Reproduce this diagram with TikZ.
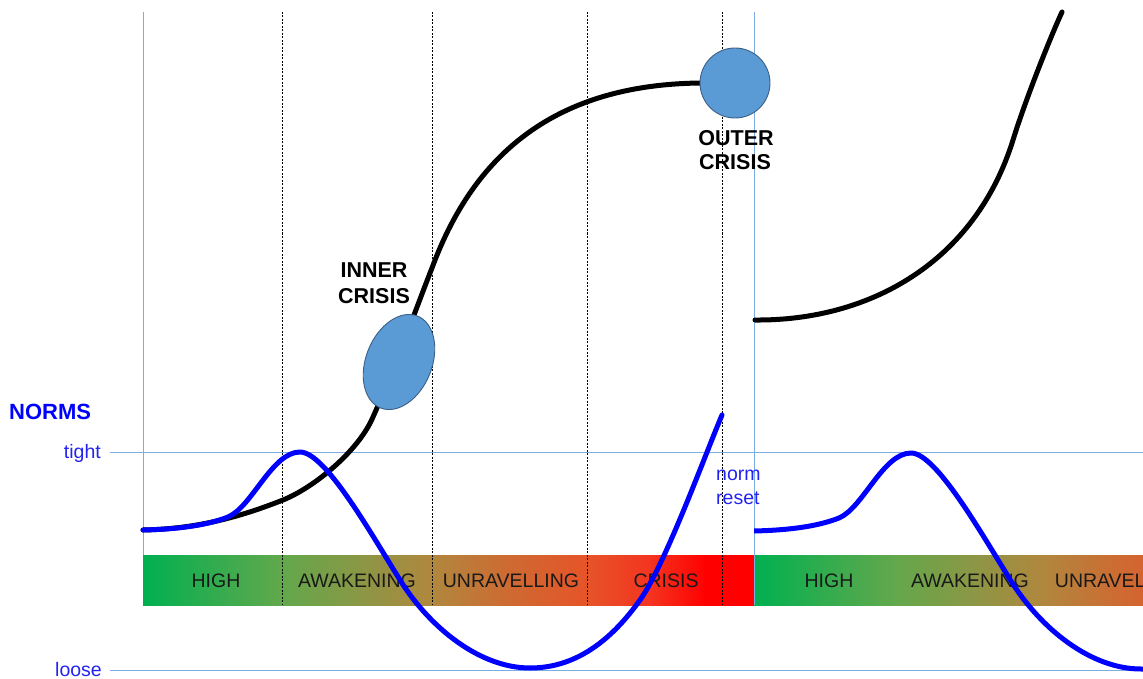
\documentclass[tikz,border=0pt]{standalone}
\usepackage{fontspec}
\setmainfont{Liberation Sans}
\usetikzlibrary{shapes.geometric}

\definecolor{gridblue}{RGB}{125,172,225}
\definecolor{normblue}{RGB}{0,0,255}
\definecolor{textblue}{RGB}{35,35,240}
\definecolor{crisisfill}{RGB}{91,155,213}
\definecolor{crisisedge}{RGB}{60,95,135}
\definecolor{barA}{RGB}{0,176,80}
\definecolor{barB}{RGB}{98,168,76}
\definecolor{barC}{RGB}{176,135,62}
\definecolor{barD}{RGB}{206,106,50}
\definecolor{barE}{RGB}{230,84,40}
\definecolor{barF}{RGB}{244,52,32}
\definecolor{barG}{RGB}{255,0,0}

% generation colour band: stops placed in the 25bp..75bp window
\pgfdeclarehorizontalshading{genband}{100bp}{%
  color(0bp)=(barA); color(25bp)=(barA); color(36.4bp)=(barB);
  color(48.6bp)=(barC); color(55bp)=(barD); color(61.3bp)=(barE);
  color(66.5bp)=(barF); color(71bp)=(barG); color(75bp)=(barG);
  color(100bp)=(barG)}

% one swing of the norms curve: tight peak, then loose trough
\newcommand\normswing{%
  (143,530) .. controls (185,529) and (210,524) .. (228,517)
  .. controls (252,507) and (272,452) .. (300,452)
  .. controls (325,452) and (370,532) .. (400,580)
  .. controls (430,628) and (480,668) .. (530,668)}

\tikzset{
  gridline/.style={gridblue, line width=0.9pt},
  phaseline/.style={black, line width=0.8pt, dash pattern=on 2pt off 1.5pt},
  band/.style={shading=genband, draw=none},
  bandlabel/.style={anchor=base, inner sep=0pt, text=black!90,
    font=\fontsize{19.5}{22}\selectfont},
  trend/.style={black, line width=5pt, line cap=round, line join=round},
  norms/.style={normblue, line width=5pt, line cap=round, line join=round},
  crisisdot/.style={fill=crisisfill, draw=crisisedge, line width=0.9pt, inner sep=0pt},
  crisislabel/.style={anchor=base, inner sep=0pt, font=\bfseries\fontsize{21.5}{24}\selectfont},
  normlabel/.style={inner sep=0pt, text=textblue, font=\fontsize{19.5}{22}\selectfont},
}

\begin{document}
\begin{tikzpicture}[x=1pt, y=-1pt]
\useasboundingbox (0,0) rectangle (1143,679);

% colour bands for the two generational cycles
\fill[band] (143,555) rectangle (754,605);
\begin{scope}
  \clip (754,0) rectangle (1143,679);
  \fill[band] (754,555) rectangle (1365,605);
\end{scope}

% grid lines
\draw[gridline] (143,12) -- (143,555);
\draw[gridline] (754,12) -- (754,605);
\draw[gridline] (110,452) -- (1143,452);
\draw[gridline] (110,670) -- (1143,670);

% phase boundaries
\foreach \px in {282,432,587,722}
  \draw[phaseline] (\px,12) -- (\px,605);

% band labels
\node[bandlabel] (high1) at (216,587) {HIGH};
\node[bandlabel] (awak1) at (357,587) {AWAKENING};
\node[bandlabel] (unrav1) at (511,587) {UNRAVELLING};
\node[bandlabel] (cris1) at (666,587) {CRISIS};
\begin{scope}
  \clip (754,0) rectangle (1143,679);
  \node[bandlabel] (high2) at (829,587) {HIGH};
  \node[bandlabel] (awak2) at (970,587) {AWAKENING};
  \node[bandlabel] (unrav2) at (1123,587) {UNRAVELLING};
\end{scope}

% first S-curve
\draw[trend] (143,530) .. controls (200,529) and (245,515) .. (283,500)
  .. controls (313,488) and (358,452) .. (373,417)
  .. controls (395,368) and (420,298) .. (432,268)
  .. controls (470,165) and (545,83) .. (705,83);

% second S-curve
\draw[trend] (755,320) .. controls (870,321) and (975,262) .. (1013,140)
  .. controls (1025,101) and (1050,38) .. (1062,12);

% norms curves
\draw[norms] \normswing
  .. controls (580,668) and (615,635) .. (640,600)
  .. controls (665,565) and (705,455) .. (722,415);
\begin{scope}
  \clip (754,0) rectangle (1143,679);
  \begin{scope}[xshift=611pt, yshift=-1pt]
    \draw[norms] \normswing -- (560,668);
  \end{scope}
\end{scope}

% crises
\node[crisisdot, ellipse, minimum width=66pt, minimum height=99pt, rotate=-22]
  (inner) at (399,362) {};
\node[crisisdot, circle, minimum size=70pt] (outer) at (735,83) {};

\node[crisislabel] (innerA) at (374,277) {INNER};
\node[crisislabel] (innerB) at (374,303) {CRISIS};
\node[crisislabel] (outerA) at (736,146) {OUTER};
\node[crisislabel] (outerB) at (735,170) {CRISIS};

% axis labels
\node[anchor=base west, inner sep=0pt, text=normblue,
  font=\bfseries\fontsize{22}{24}\selectfont] (normsT) at (9,419) {NORMS};
\node[normlabel, anchor=base east] (tightT) at (101,458) {tight};
\node[normlabel, anchor=base east] (looseT) at (102,676) {loose};
\node[normlabel, anchor=base west] (resetA) at (716,480) {norm};
\node[normlabel, anchor=base west] (resetB) at (716,504) {reset};
\end{tikzpicture}
\end{document}
